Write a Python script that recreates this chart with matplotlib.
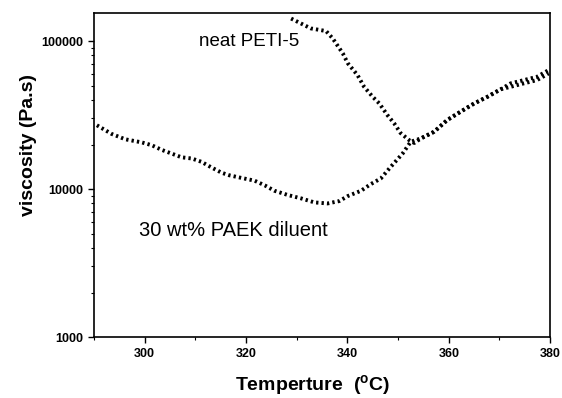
import numpy as np
import matplotlib
matplotlib.use("Agg")
import matplotlib.pyplot as plt
from matplotlib import ticker

plt.rcParams['font.family'] = ['Liberation Sans', 'DejaVu Sans']

# neat PETI-5
temp_peti = [328.9, 332.8, 335.8, 337.1, 339.1, 340.1, 342.0, 343.3, 345.0, 346.3,
             347.9, 349.2, 350.5, 352.2, 353.2, 354.5, 357.1, 359.7, 362.3, 365.0,
             367.6, 370.2, 372.2, 374.8, 377.4, 379.7]
visc_peti = [142000, 121800, 116900, 104300, 82600, 70700, 58900, 49100, 42000, 37900,
             31600, 27900, 23900, 21400, 20500, 22000, 24400, 29300, 33300, 37900,
             42000, 47200, 51800, 54500, 57400, 63700]

# 30 wt% PAEK diluent
temp_dil = [290.6, 293.5, 296.2, 299.4, 301.4, 303.4, 305.3, 307.3, 309.3, 311.2,
            313.2, 315.2, 316.7, 319.1, 321.7, 323.7, 325.6, 328.3, 330.9, 333.5,
            336.1, 338.4, 340.1, 342.7, 344.6, 346.6, 348.6, 350.9, 352.5, 354.5,
            357.1, 359.7, 362.3, 365.0, 367.6, 370.2, 372.2, 374.8, 377.4, 379.7]
visc_dil = [27000, 23600, 21700, 20700, 19800, 18400, 17400, 16400, 16100, 15300,
            14000, 12900, 12400, 11900, 11400, 10600, 9750, 9110, 8650, 8130,
            8000, 8300, 8980, 9750, 10800, 11800, 14200, 17400, 20900, 22000,
            24400, 29300, 33300, 37900, 42000, 47200, 49100, 51800, 54500, 60500]

fig = plt.figure(figsize=(5.62, 3.98), dpi=100)
ax = fig.add_axes([0.167, 0.153, 0.812, 0.814])

dots = dict(color='black', linestyle=(0, (0.6, 0.8)), linewidth=2.8,
            solid_capstyle='butt', dash_capstyle='butt')
ax.plot(temp_peti, visc_peti, **dots)
ax.plot(temp_dil, visc_dil, **dots)

ax.set_yscale('log')
ax.set_xlim(290, 380)
ax.set_ylim(1000, 154500)

ax.xaxis.set_major_locator(ticker.MultipleLocator(20))
ax.xaxis.set_minor_locator(ticker.MultipleLocator(10))
ax.yaxis.set_major_locator(ticker.FixedLocator([1000, 10000, 100000]))
ax.yaxis.set_major_formatter(ticker.FuncFormatter(lambda v, p: '%d' % v))
ax.yaxis.set_minor_locator(ticker.LogLocator(base=10, subs=np.arange(2, 10)))
ax.yaxis.set_minor_formatter(ticker.NullFormatter())

ax.tick_params(axis='both', which='major', direction='out', length=4, width=1)
ax.tick_params(axis='both', which='minor', direction='out', length=2, width=0.8)
ax.tick_params(axis='x', labelsize=9)
ax.tick_params(axis='y', labelsize=9)
for lab in ax.get_xticklabels() + ax.get_yticklabels():
    lab.set_fontweight('bold')

for s in ax.spines.values():
    s.set_linewidth(1.2)

ax.set_xlabel('Temperture  ($\\mathregular{^o}$C)', fontsize=14, fontweight='bold')
ax.xaxis.set_label_coords(0.48, -0.11)
ax.set_ylabel('viscosity (Pa.s)', fontsize=14, fontweight='bold')
ax.yaxis.set_label_coords(-0.125, 0.593)

ax.text(310.8, 100000, 'neat PETI-5', fontsize=13.5, ha='left', va='center')
ax.text(299, 5290, '30 wt% PAEK diluent', fontsize=14.5, ha='left', va='center')

fig.savefig('out.png', dpi=100)
